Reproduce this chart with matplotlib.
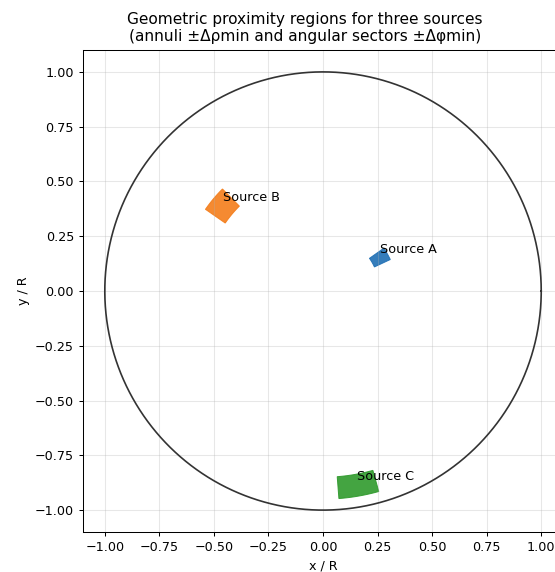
import numpy as np
import matplotlib.pyplot as plt

# source positions (polar, in units of R) and proximity half-widths
names = ["Source A", "Source B", "Source C"]
rho = [0.30, 0.60, 0.90]
phi_deg = [30, 140, -80]
d_rho = [0.04, 0.055, 0.05]
d_phi_deg = [5.0, 5.3, 5.6]
colors = ["#1f6fb4", "#f47d1a", "#2f9a2c"]

DPI = 92
fig = plt.figure(figsize=(555 / DPI, 572 / DPI), dpi=DPI)
ax = fig.add_axes([0.1495, 0.0699, 0.865, 0.8427])

# unit circle
t = np.linspace(0, 2 * np.pi, 400)
ax.plot(np.cos(t), np.sin(t), color="#333333", lw=1.3)

for name, r, p, dr, dp, c in zip(names, rho, phi_deg, d_rho, d_phi_deg, colors):
    a = np.radians(np.linspace(p - dp, p + dp, 40))
    r_in, r_out = r - dr, r + dr
    xs = np.concatenate([r_out * np.cos(a), r_in * np.cos(a[::-1])])
    ys = np.concatenate([r_out * np.sin(a), r_in * np.sin(a[::-1])])
    ax.fill(xs, ys, color=c, alpha=0.9, lw=0.8, edgecolor=c)
    x0 = r * np.cos(np.radians(p))
    y0 = r * np.sin(np.radians(p))
    ax.text(x0, y0 + 0.01, name, fontsize=10, ha="left", va="bottom")

ax.set_xlim(-1.1, 1.1)
ax.set_ylim(-1.1, 1.1)
ax.set_xticks(np.arange(-1.0, 1.01, 0.25))
ax.set_yticks(np.arange(-1.0, 1.01, 0.25))
ax.grid(True, alpha=0.3)
ax.set_xlabel("x / R")
ax.set_ylabel("y / R")
ax.set_title("Geometric proximity regions for three sources\n"
             "(annuli \u00b1\u0394\u03c1min and angular sectors \u00b1\u0394\u03c6min)",
             fontsize=12, x=0.4625, pad=7)

fig.savefig("out.png", dpi=DPI)
